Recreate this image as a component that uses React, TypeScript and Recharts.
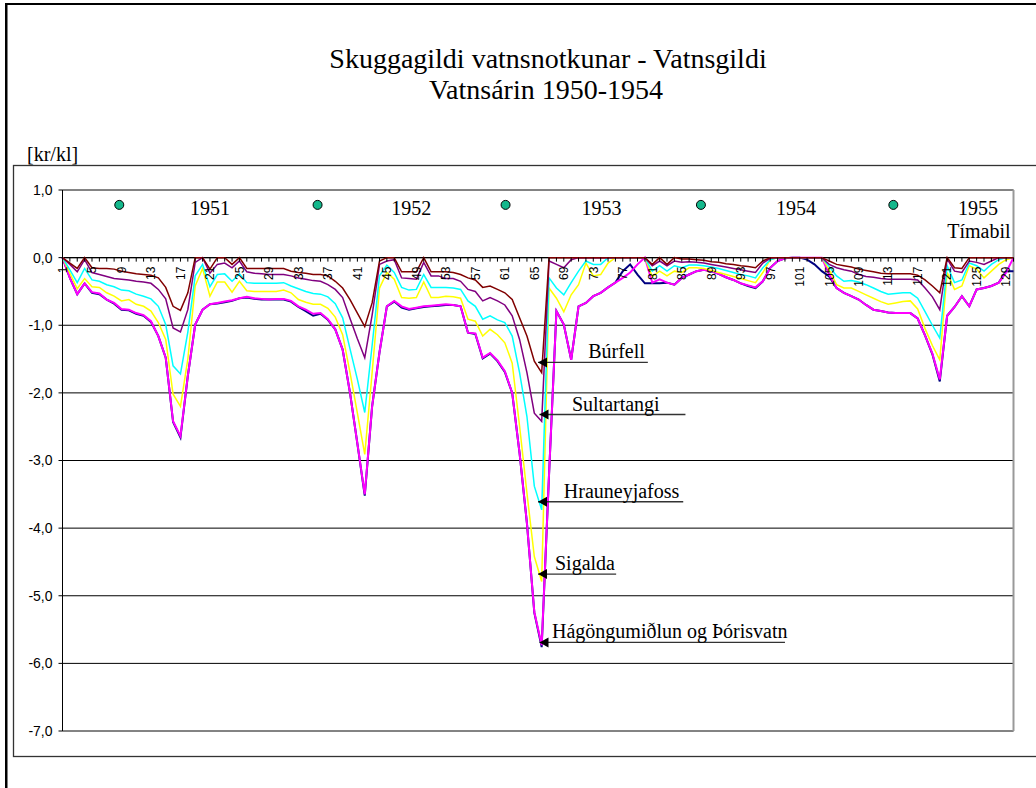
import React from 'react'
import {
  ComposedChart,
  Line,
  XAxis,
  YAxis,
  CartesianGrid,
  ReferenceLine,
  ReferenceDot,
} from 'recharts'

// Tímabil (two-week periods) 1..130
const PERIODS = Array.from({ length: 130 }, (_, i) => i + 1)
const Y_TICKS = [-7, -6, -5, -4, -3, -2, -1, 0, 1]

// Skuggagildi [kr/kl] per period
const BURFELL = [
  0, -0.08, -0.16, 0, -0.15, -0.16, -0.16, -0.17, -0.2, -0.22,
  -0.24, -0.25, -0.26, -0.3, -0.44, -0.72, -0.78, -0.52, 0, 0,
  -0.17, 0, 0, -0.1, 0, -0.16, -0.16, -0.16, -0.16, -0.16,
  -0.16, -0.2, -0.22, -0.23, -0.25, -0.25, -0.27, -0.35, -0.45, -0.62,
  -0.82, -1.02, -0.67, -0.05, 0, 0, -0.21, -0.21, -0.21, 0,
  -0.21, -0.21, -0.21, -0.22, -0.25, -0.3, -0.33, -0.44, -0.42, -0.47,
  -0.52, -0.62, -0.89, -1.16, -1.53, -1.7, 0, 0, 0, 0,
  0, 0, 0, 0, 0, 0, 0, 0, 0, 0,
  -0.1, 0, -0.1, 0, -0.02, -0.02, -0.03, -0.04, -0.06, -0.07,
  -0.09, -0.1, -0.12, -0.13, -0.15, -0.05, 0, 0, 0, 0,
  0, 0, 0, 0, -0.05, -0.1, -0.12, -0.14, -0.17, -0.19,
  -0.21, -0.23, -0.24, -0.24, -0.24, -0.24, -0.26, -0.33, -0.42, -0.52,
  0, -0.15, -0.16, 0, 0, 0, 0, 0, 0, 0,
]

const SULTARTANGI = [
  0, -0.1, -0.21, -0.03, -0.22, -0.25, -0.28, -0.31, -0.32, -0.33,
  -0.35, -0.36, -0.38, -0.47, -0.61, -1.04, -1.1, -0.77, -0.07, 0,
  -0.23, -0.1, -0.08, -0.15, -0.05, -0.21, -0.23, -0.24, -0.25, -0.25,
  -0.25, -0.27, -0.3, -0.32, -0.34, -0.35, -0.4, -0.47, -0.59, -0.9,
  -1.2, -1.48, -0.85, -0.1, -0.05, -0.03, -0.3, -0.31, -0.32, -0.07,
  -0.27, -0.27, -0.31, -0.31, -0.35, -0.47, -0.5, -0.64, -0.59, -0.64,
  -0.7, -0.86, -1.21, -1.7, -2.3, -2.42, -0.05, -0.1, -0.15, -0.03,
  0, 0, 0, 0, 0, 0, 0, 0, 0, 0,
  -0.12, -0.05, -0.12, -0.05, -0.07, -0.06, -0.07, -0.08, -0.1, -0.12,
  -0.14, -0.16, -0.18, -0.2, -0.22, -0.08, -0.01, 0, 0, 0,
  0, 0, 0, 0, -0.1, -0.15, -0.18, -0.2, -0.25, -0.28,
  -0.29, -0.31, -0.32, -0.32, -0.32, -0.32, -0.33, -0.45, -0.58, -0.77,
  -0.02, -0.2, -0.22, -0.05, -0.07, -0.1, -0.05, 0, 0, 0,
]

const HRAUNEYJAFOSS = [
  0, -0.18, -0.37, -0.16, -0.33, -0.35, -0.4, -0.43, -0.48, -0.49,
  -0.54, -0.57, -0.61, -0.72, -0.99, -1.6, -1.72, -1.1, -0.27, -0.1,
  -0.43, -0.25, -0.24, -0.35, -0.24, -0.37, -0.38, -0.38, -0.38, -0.38,
  -0.37, -0.42, -0.46, -0.5, -0.53, -0.54, -0.58, -0.68, -0.89, -1.35,
  -1.8, -2.29, -1.3, -0.27, -0.11, -0.22, -0.44, -0.48, -0.47, -0.25,
  -0.44, -0.44, -0.44, -0.45, -0.47, -0.64, -0.72, -0.91, -0.86, -0.92,
  -0.96, -1.16, -1.7, -2.35, -3.38, -3.73, -0.3, -0.45, -0.55, -0.37,
  -0.2, -0.05, -0.1, -0.1, 0, 0, 0, 0, 0, 0,
  -0.2, -0.12, -0.2, -0.12, -0.15, -0.11, -0.11, -0.12, -0.14, -0.16,
  -0.19, -0.22, -0.25, -0.27, -0.3, -0.15, -0.03, 0, 0, 0,
  0, 0, 0, 0, -0.13, -0.27, -0.35, -0.34, -0.36, -0.4,
  -0.45, -0.5, -0.54, -0.53, -0.52, -0.52, -0.6, -0.8, -1.0, -1.19,
  -0.12, -0.37, -0.33, -0.08, -0.12, -0.2, -0.1, -0.03, 0, 0,
]

const SIGALDA = [
  0, -0.23, -0.46, -0.31, -0.43, -0.44, -0.52, -0.57, -0.64, -0.62,
  -0.69, -0.72, -0.79, -0.96, -1.21, -2.02, -2.2, -1.5, -0.42, -0.16,
  -0.57, -0.36, -0.36, -0.51, -0.35, -0.49, -0.5, -0.5, -0.5, -0.5,
  -0.48, -0.52, -0.62, -0.66, -0.69, -0.69, -0.75, -0.88, -1.14, -1.7,
  -2.3, -2.91, -1.7, -0.45, -0.22, -0.32, -0.59, -0.6, -0.59, -0.36,
  -0.59, -0.59, -0.57, -0.58, -0.6, -0.91, -0.94, -1.16, -1.06, -1.14,
  -1.26, -1.56, -2.49, -3.48, -4.42, -4.79, -0.45, -0.6, -0.8, -0.55,
  -0.4, -0.08, -0.27, -0.25, -0.08, 0, 0, 0, 0, 0,
  -0.28, -0.2, -0.27, -0.2, -0.22, -0.15, -0.15, -0.16, -0.19, -0.22,
  -0.25, -0.28, -0.31, -0.34, -0.37, -0.22, -0.03, 0, 0, 0,
  0, 0, 0, 0, -0.18, -0.4, -0.45, -0.45, -0.5, -0.55,
  -0.6, -0.65, -0.69, -0.67, -0.65, -0.64, -0.76, -1.05, -1.3, -1.51,
  -0.22, -0.47, -0.42, -0.12, -0.17, -0.3, -0.2, -0.1, -0.03, 0,
]

const HAGONGUMIDLUN = [
  0, -0.3, -0.54, -0.38, -0.51, -0.53, -0.62, -0.67, -0.76, -0.77,
  -0.82, -0.85, -0.94, -1.16, -1.48, -2.42, -2.64, -1.75, -0.99, -0.77,
  -0.69, -0.67, -0.65, -0.63, -0.6, -0.58, -0.6, -0.61, -0.62, -0.61,
  -0.61, -0.64, -0.72, -0.77, -0.83, -0.82, -0.91, -1.06, -1.36, -2.0,
  -2.75, -3.5, -2.2, -1.4, -0.72, -0.64, -0.72, -0.76, -0.74, -0.72,
  -0.71, -0.7, -0.69, -0.7, -0.72, -1.11, -1.12, -1.48, -1.41, -1.52,
  -1.68, -2.0, -2.89, -3.93, -5.24, -5.73, -3.2, -0.79, -0.99, -1.51,
  -0.72, -0.67, -0.57, -0.52, -0.44, -0.37, -0.3, -0.22, -0.1, 0,
  -0.37, -0.32, -0.37, -0.4, -0.3, -0.25, -0.2, -0.18, -0.2, -0.24,
  -0.29, -0.33, -0.38, -0.41, -0.44, -0.35, -0.15, -0.05, -0.01, 0,
  0, 0, 0, 0, -0.25, -0.45, -0.52, -0.57, -0.62, -0.7,
  -0.77, -0.79, -0.81, -0.82, -0.82, -0.82, -0.9, -1.15, -1.42, -1.8,
  -0.86, -0.73, -0.57, -0.72, -0.47, -0.45, -0.42, -0.37, -0.22, 0,
]

const THORISVATN = [
  0, -0.3, -0.54, -0.38, -0.52, -0.54, -0.62, -0.68, -0.77, -0.78,
  -0.83, -0.86, -0.95, -1.16, -1.48, -2.43, -2.66, -1.75, -0.99, -0.77,
  -0.69, -0.68, -0.66, -0.64, -0.6, -0.59, -0.61, -0.62, -0.62, -0.62,
  -0.62, -0.65, -0.73, -0.79, -0.86, -0.83, -0.92, -1.06, -1.36, -2.0,
  -2.75, -3.52, -2.2, -1.4, -0.72, -0.65, -0.74, -0.77, -0.75, -0.73,
  -0.72, -0.71, -0.7, -0.7, -0.72, -1.11, -1.13, -1.49, -1.42, -1.53,
  -1.69, -2.0, -2.89, -3.93, -5.25, -5.76, -3.2, -0.79, -0.99, -1.51,
  -0.72, -0.67, -0.57, -0.52, -0.44, -0.37, -0.2, -0.1, -0.25, -0.38,
  -0.38, -0.38, -0.37, -0.4, -0.3, -0.25, -0.2, -0.18, -0.2, -0.24,
  -0.29, -0.33, -0.38, -0.42, -0.45, -0.35, -0.15, -0.05, -0.01, 0,
  0, -0.03, -0.1, -0.2, -0.28, -0.45, -0.52, -0.57, -0.62, -0.7,
  -0.77, -0.79, -0.81, -0.82, -0.82, -0.82, -0.9, -1.15, -1.43, -1.83,
  -0.86, -0.73, -0.57, -0.72, -0.47, -0.45, -0.42, -0.37, -0.2, -0.2,
]

// year markers along the top of the plot
const YEAR_DOT_AT = [8.7, 35.6, 61.1, 87.6, 113.7]
const YEAR_NAMES = ['1951', '1952', '1953', '1954', '1955']
const YEAR_NAME_AT = [21, 48.3, 74.1, 100.5, 125.2]

// arrows pointing at the deepest point of each station
const ARROW_NAMES = ['Búrfell', 'Sultartangi', 'Hrauneyjafoss', 'Sigalda', 'Hágöngumiðlun og Þórisvatn']
const ARROW_VALUES = [-1.55, -2.32, -3.61, -4.68, -5.69]
const ARROW_TIP = [65.5, 65.7, 65.5, 65.5, 65.7]
const ARROW_END = [80.4, 85.5, 85.2, 76.1, 99]
const ARROW_TEXT = [72.3, 70.1, 69, 67.8, 67.4]

const data = PERIODS.map((p, i) => ({
  period: p,
  burfell: BURFELL[i],
  sultartangi: SULTARTANGI[i],
  hrauneyjafoss: HRAUNEYJAFOSS[i],
  sigalda: SIGALDA[i],
  hagongumidlun: HAGONGUMIDLUN[i],
  thorisvatn: THORISVATN[i],
}))

const W = 1036
const H = 788
const PLOT_TOP = 190
const PLOT_BOTTOM = 731
const Y_MAX = 1
const Y_MIN = -7
const ZERO_Y = PLOT_TOP + ((PLOT_BOTTOM - PLOT_TOP) * (Y_MAX - 0)) / (Y_MAX - Y_MIN)

const SERIF = '"Liberation Serif", "Times New Roman", serif'
const SANS = '"Liberation Sans", Arial, sans-serif'

const fmtY = (v: number) => v.toFixed(1).replace('.', ',')

// x axis sits on the zero line, not at the edge of the plot
function PeriodTick(props: any) {
  const { x, payload } = props
  const v = payload.value
  const ty = ZERO_Y + 9
  return (
    <g>
      <line x1={x} x2={x} y1={ZERO_Y} y2={ZERO_Y + 4} stroke="#000" />
      {(v - 1) % 4 === 0 && (
        <text
          x={x}
          y={ty}
          dy="0.36em"
          transform={`rotate(-90 ${x} ${ty})`}
          textAnchor="end"
          fontSize={12}
          fontFamily={SANS}
          fill="#000"
        >
          {v}
        </text>
      )}
    </g>
  )
}

function arrowShape(i: number) {
  return (props: any) => {
    const { x1, y1, x2 } = props
    const frac = (ARROW_TEXT[i] - ARROW_TIP[i]) / (ARROW_END[i] - ARROW_TIP[i])
    const tx = x1 + frac * (x2 - x1)
    return (
      <g>
        <line x1={x1} y1={y1} x2={x2} y2={y1} stroke="#333" strokeWidth={1.3} />
        <polygon points={`${x1},${y1} ${x1 + 9},${y1 - 5} ${x1 + 9},${y1 + 5}`} fill="#000" />
        <text x={tx} y={y1 - 4} fontSize={20} fontFamily={SERIF} fill="#000">
          {ARROW_NAMES[i]}
        </text>
      </g>
    )
  }
}

export default function App() {
  return (
    <div style={{ position: 'absolute', left: 0, top: 0, width: W, height: H, background: '#fff', overflow: 'hidden' }}>
      <svg width={W} height={H} style={{ position: 'absolute', left: 0, top: 0 }}>
        <rect x={5} y={3} width={W} height={2} fill="#000" />
        <rect x={5} y={3} width={2.5} height={H} fill="#000" />
        <rect x={13.5} y={165.5} width={W} height={591} fill="none" stroke="#333" strokeWidth={1.3} />
        <text x={548} y={68} textAnchor="middle" fontSize={28} fontFamily={SERIF} fill="#000">
          Skuggagildi vatnsnotkunar - Vatnsgildi
        </text>
        <text x={546} y={99} textAnchor="middle" fontSize={28} fontFamily={SERIF} fill="#000">
          Vatnsárin 1950-1954
        </text>
        <text x={27} y={161} fontSize={20} fontFamily={SERIF} fill="#000">
          [kr/kl]
        </text>
      </svg>
      <div style={{ position: 'absolute', left: 0, top: 0 }}>
        <ComposedChart
          width={W}
          height={H}
          data={data}
          margin={{ top: 180, right: 22.5, bottom: 57, left: 12.5 }}
        >
          <CartesianGrid vertical={false} stroke="#000" strokeWidth={1} />
          <XAxis
            type="number"
            dataKey="period"
            orientation="top"
            height={10}
            domain={[1, 130]}
            ticks={PERIODS}
            interval={0}
            axisLine={false}
            tickLine={false}
            tick={PeriodTick}
          />
          <YAxis
            domain={[Y_MIN, Y_MAX]}
            ticks={Y_TICKS}
            width={50}
            tickSize={4}
            tickMargin={6}
            tickFormatter={fmtY}
            stroke="#000"
            tick={{ fontSize: 14, fill: '#000', fontFamily: SANS }}
            allowDataOverflow
          />
          <ReferenceLine y={1} stroke="#888" />
          <ReferenceLine y={-7} stroke="#888" />
          <ReferenceLine x={130} stroke="#999" strokeWidth={2} />
          <ReferenceLine y={0} stroke="#000" strokeWidth={1.3} />
          <Line dataKey="thorisvatn" stroke="#000080" strokeWidth={2} dot={false} isAnimationActive={false} />
          <Line dataKey="hagongumidlun" stroke="#FF00FF" strokeWidth={2} dot={false} isAnimationActive={false} />
          <Line dataKey="sigalda" stroke="#FFFF00" strokeWidth={1.5} dot={false} isAnimationActive={false} />
          <Line dataKey="hrauneyjafoss" stroke="#00FFFF" strokeWidth={1.5} dot={false} isAnimationActive={false} />
          <Line dataKey="sultartangi" stroke="#800080" strokeWidth={1.5} dot={false} isAnimationActive={false} />
          <Line dataKey="burfell" stroke="#800000" strokeWidth={1.5} dot={false} isAnimationActive={false} />
          {YEAR_DOT_AT.map((p) => (
            <ReferenceDot key={'d' + p} x={p} y={0.78} r={4.5} fill="#14B88C" stroke="#000" strokeWidth={1} />
          ))}
          {YEAR_NAMES.map((name, i) => (
            <ReferenceDot
              key={name}
              x={YEAR_NAME_AT[i]}
              y={0.63}
              r={0}
              shape={(p: any) => (
                <text x={p.cx} y={p.cy} textAnchor="middle" fontSize={20} fontFamily={SERIF} fill="#000">
                  {name}
                </text>
              )}
            />
          ))}
          <ReferenceDot
            x={125.3}
            y={0.29}
            r={0}
            shape={(p: any) => (
              <text x={p.cx} y={p.cy} textAnchor="middle" fontSize={20} fontFamily={SERIF} fill="#000">
                Tímabil
              </text>
            )}
          />
          {ARROW_NAMES.map((name, i) => (
            <ReferenceLine
              key={name}
              segment={[
                { x: ARROW_TIP[i], y: ARROW_VALUES[i] },
                { x: ARROW_END[i], y: ARROW_VALUES[i] },
              ]}
              shape={arrowShape(i)}
            />
          ))}
        </ComposedChart>
      </div>
    </div>
  )
}
